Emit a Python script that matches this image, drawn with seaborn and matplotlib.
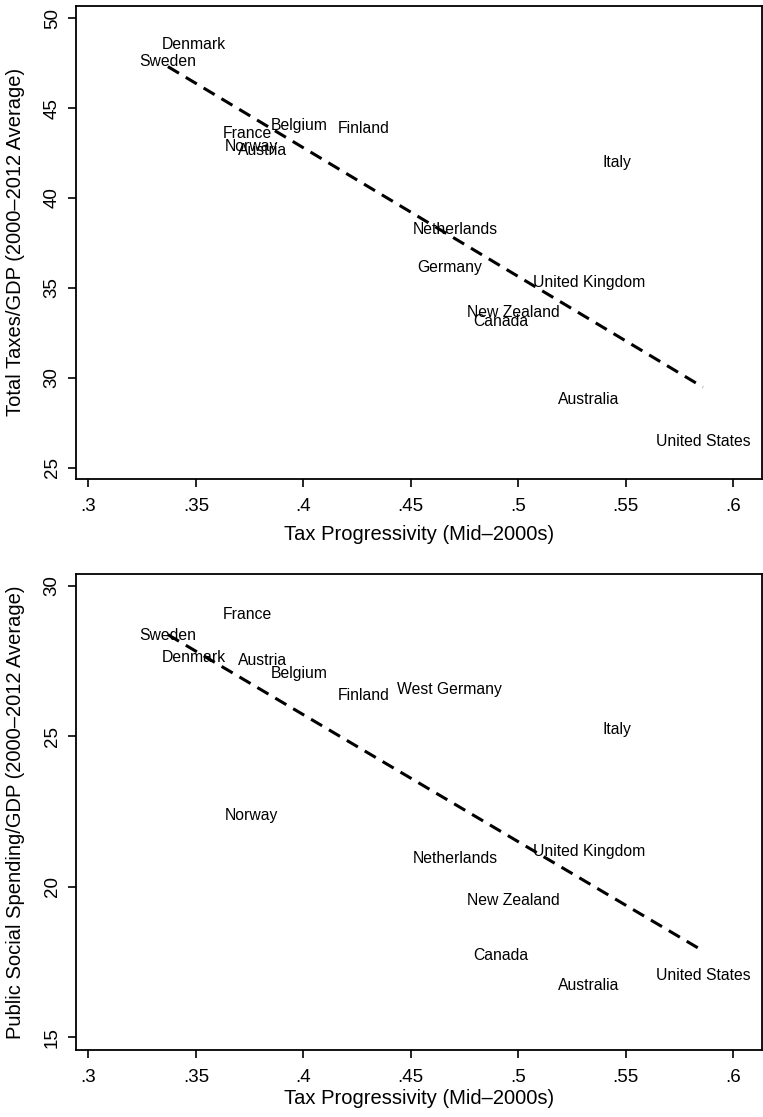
import matplotlib
matplotlib.use("Agg")
import matplotlib.pyplot as plt
import seaborn as sns
import pandas as pd

# Tax progressivity (mid-2000s), shared by both panels
countries_tax = ["Denmark", "Sweden", "France", "Belgium", "Finland", "Norway",
                 "Austria", "Italy", "Netherlands", "Germany", "United Kingdom",
                 "New Zealand", "Canada", "Australia", "United States"]
progressivity_tax = [0.349, 0.337, 0.374, 0.398, 0.428, 0.376,
                     0.381, 0.546, 0.471, 0.468, 0.533,
                     0.498, 0.492, 0.533, 0.586]
total_taxes_gdp = [48.55, 47.59, 43.60, 44.01, 43.88, 42.86,
                   42.64, 41.99, 38.26, 36.13, 35.32,
                   33.63, 33.13, 28.81, 26.45]

countries_soc = ["France", "Sweden", "Denmark", "Austria", "Belgium", "Finland",
                 "West Germany", "Italy", "Norway", "Netherlands", "United Kingdom",
                 "New Zealand", "Canada", "Australia", "United States"]
progressivity_soc = [0.374, 0.337, 0.349, 0.381, 0.398, 0.428,
                     0.468, 0.546, 0.376, 0.471, 0.533,
                     0.498, 0.492, 0.533, 0.586]
social_spending_gdp = [29.06, 28.37, 27.63, 27.54, 27.10, 26.36,
                       26.55, 25.24, 22.38, 20.93, 21.18,
                       19.55, 17.72, 16.72, 17.06]

x_ticks = [0.30, 0.35, 0.40, 0.45, 0.50, 0.55, 0.60]
x_tick_labels = [".3", ".35", ".4", ".45", ".5", ".55", ".6"]
y_ticks_tax = [25, 30, 35, 40, 45, 50]
y_ticks_soc = [15, 20, 25, 30]

x_title = "Tax Progressivity (Mid\u20132000s)"
y_title_tax = "Total Taxes/GDP (2000\u20132012 Average)"
y_title_soc = "Public Social Spending/GDP (2000\u20132012 Average)"

sns.set_theme(style="ticks")
plt.rcParams["font.family"] = ["Liberation Sans", "DejaVu Sans"]
plt.rcParams["axes.edgecolor"] = "black"
plt.rcParams["axes.labelcolor"] = "black"
plt.rcParams["text.color"] = "black"
plt.rcParams["axes.linewidth"] = 1.3

df_tax = pd.DataFrame({"country": countries_tax, "x": progressivity_tax, "y": total_taxes_gdp})
df_soc = pd.DataFrame({"country": countries_soc, "x": progressivity_soc, "y": social_spending_gdp})

fig = plt.figure(figsize=(7.63, 11.17), dpi=100)
ax_top = fig.add_axes([0.0996, 0.5712, 0.899, 0.4237])
ax_bot = fig.add_axes([0.0996, 0.0600, 0.899, 0.4261])


def draw_panel(ax, df, yticks, ylim, ytitle, xlabelpad):
    sns.regplot(data=df, x="x", y="y", ax=ax, scatter=False, ci=None,
                truncate=True, color="black",
                line_kws=dict(linestyle=(0, (4.2, 2.6)), linewidth=2.2))
    for _, row in df.iterrows():
        ax.text(row["x"], row["y"], row["country"], ha="center", va="center",
                fontsize=11.3, color="black")
    ax.set_xlim(0.2942, 0.6135)
    ax.set_ylim(*ylim)
    ax.set_xticks(x_ticks)
    ax.set_xticklabels(x_tick_labels)
    ax.set_yticks(yticks)
    ax.set_yticklabels([str(v) for v in yticks])
    ax.tick_params(axis="both", length=6, width=1.2, color="black",
                   labelsize=13.5, labelcolor="black")
    ax.tick_params(axis="x", pad=8)
    ax.tick_params(axis="y", pad=5)
    for t in ax.get_yticklabels():
        t.set_rotation(90)
        t.set_va("center")
    ax.set_xlabel(x_title, fontsize=14.5, labelpad=xlabelpad, color="black")
    ax.set_ylabel(ytitle, fontsize=14.5, color="black")
    ax.yaxis.set_label_coords(-0.074, 0.5)
    for s in ax.spines.values():
        s.set_visible(True)
        s.set_color("black")


draw_panel(ax_top, df_tax, y_ticks_tax, (24.37, 50.70), y_title_tax, 7)
draw_panel(ax_bot, df_soc, y_ticks_soc, (14.58, 30.40), y_title_soc, 2)

fig.savefig("out.png", dpi=100, facecolor="white")
